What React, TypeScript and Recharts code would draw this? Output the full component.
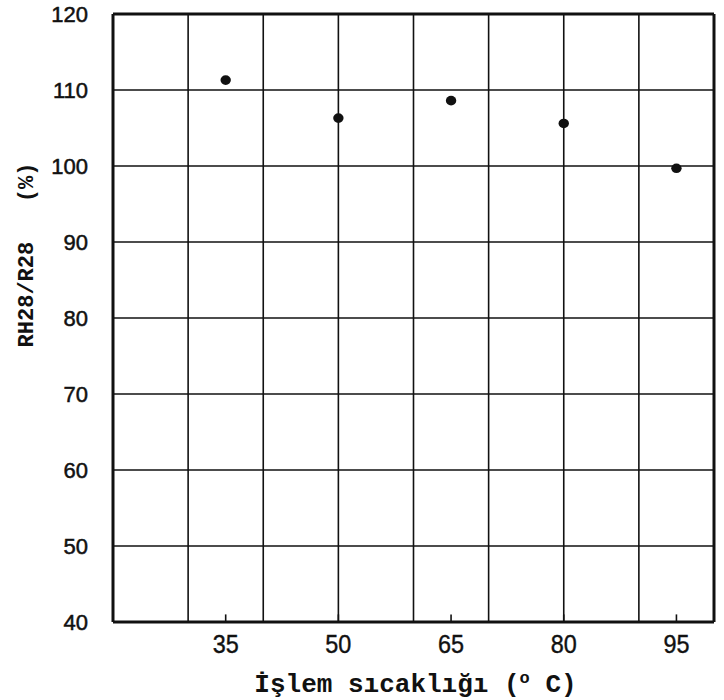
import React from 'react'
import { CartesianGrid, ReferenceLine, Scatter, ScatterChart, XAxis, YAxis } from 'recharts'

// İşlem sıcaklığı (°C) -> RH28/R28 (%)
const temperatures = [35, 50, 65, 80, 95]
const ratios = [111.3, 106.3, 108.6, 105.6, 99.7]

const xTickValues = [35, 50, 65, 80, 95]
const xGridValues = [30, 40, 50, 60, 70, 80, 90]
const yTickValues = [40, 50, 60, 70, 80, 90, 100, 110, 120]

const xTitle = 'İşlem sıcaklığı ('
const yTitle = 'RH28/R28   (%)'

const ink = '#111'
const monoFont = '"Liberation Mono", "DejaVu Sans Mono", monospace'
const sansFont = '"Liberation Sans", Arial, sans-serif'

const points = temperatures.map((t, i) => ({ temperature: t, ratio: ratios[i] }))

function Dot(props: any) {
  const { cx, cy } = props
  if (cx == null || cy == null) return null
  return <ellipse cx={cx} cy={cy} rx={5.2} ry={4.8} fill={ink} />
}

function XTick(props: any) {
  const { x, y, payload } = props
  return (
    <text
      x={x}
      y={y + 31}
      textAnchor="middle"
      fill={ink}
      fontFamily={sansFont}
      fontSize={26}
      stroke={ink}
      strokeWidth={0.4}
      transform={`translate(${x} 0) scale(0.9 1) translate(${-x} 0)`}
    >
      {payload.value}
    </text>
  )
}

function YTick(props: any) {
  const { x, y, payload } = props
  return (
    <text
      x={x}
      y={y + 8}
      textAnchor="end"
      fill={ink}
      fontFamily={sansFont}
      fontSize={22}
      stroke={ink}
      strokeWidth={0.5}
    >
      {payload.value}
    </text>
  )
}

function XTitle(props: any) {
  const vb = props.viewBox || {}
  const cx = vb.x + vb.width / 2 + 2
  const y = vb.y + 70
  return (
    <text
      x={cx}
      y={y}
      textAnchor="middle"
      fill={ink}
      fontFamily={monoFont}
      fontWeight="bold"
      fontSize={26}
      style={{ whiteSpace: 'pre' }}
    >
      <tspan>{xTitle}</tspan>
      <tspan dy={-9} fontSize={17}>o</tspan>
      <tspan dy={9}> C)</tspan>
    </text>
  )
}

function YTitle(props: any) {
  const vb = props.viewBox || {}
  const x = vb.x + 27
  const y = 255
  return (
    <text
      x={x}
      y={y}
      transform={`rotate(-90 ${x} ${y})`}
      textAnchor="middle"
      dominantBaseline="central"
      fill={ink}
      fontFamily={monoFont}
      fontWeight="bold"
      fontSize={22}
      style={{ whiteSpace: 'pre' }}
    >
      {yTitle}
    </text>
  )
}

export default function App() {
  return (
    <div style={{ position: 'absolute', left: 0, top: 0, width: 724, height: 700, background: '#fff' }}>
      <ScatterChart width={724} height={700} margin={{ top: 14, right: 10, bottom: 0, left: 0 }}>
        <CartesianGrid vertical={false} stroke={ink} strokeWidth={1.6} />
        {xGridValues.map((v) => (
          <ReferenceLine key={`g${v}`} x={v} stroke={ink} strokeWidth={1.6} />
        ))}
        {xTickValues.map((v) => (
          <ReferenceLine
            key={`t${v}`}
            segment={[
              { x: v, y: 40 },
              { x: v, y: 41 },
            ]}
            stroke={ink}
            strokeWidth={1.6}
          />
        ))}
        <ReferenceLine y={120} stroke={ink} strokeWidth={3} />
        <ReferenceLine x={100} stroke={ink} strokeWidth={3} />
        <XAxis
          type="number"
          dataKey="temperature"
          domain={[20, 100]}
          ticks={xTickValues}
          height={78}
          axisLine={{ stroke: ink, strokeWidth: 3 }}
          tickLine={false}
          tickSize={0}
          tickMargin={0}
          tick={<XTick />}
          label={<XTitle />}
        />
        <YAxis
          type="number"
          dataKey="ratio"
          domain={[40, 120]}
          ticks={yTickValues}
          width={113}
          axisLine={{ stroke: ink, strokeWidth: 3 }}
          tickLine={false}
          tickSize={0}
          tickMargin={25}
          tick={<YTick />}
          label={<YTitle />}
        />
        <Scatter data={points} fill={ink} shape={<Dot />} isAnimationActive={false} />
      </ScatterChart>
    </div>
  )
}
